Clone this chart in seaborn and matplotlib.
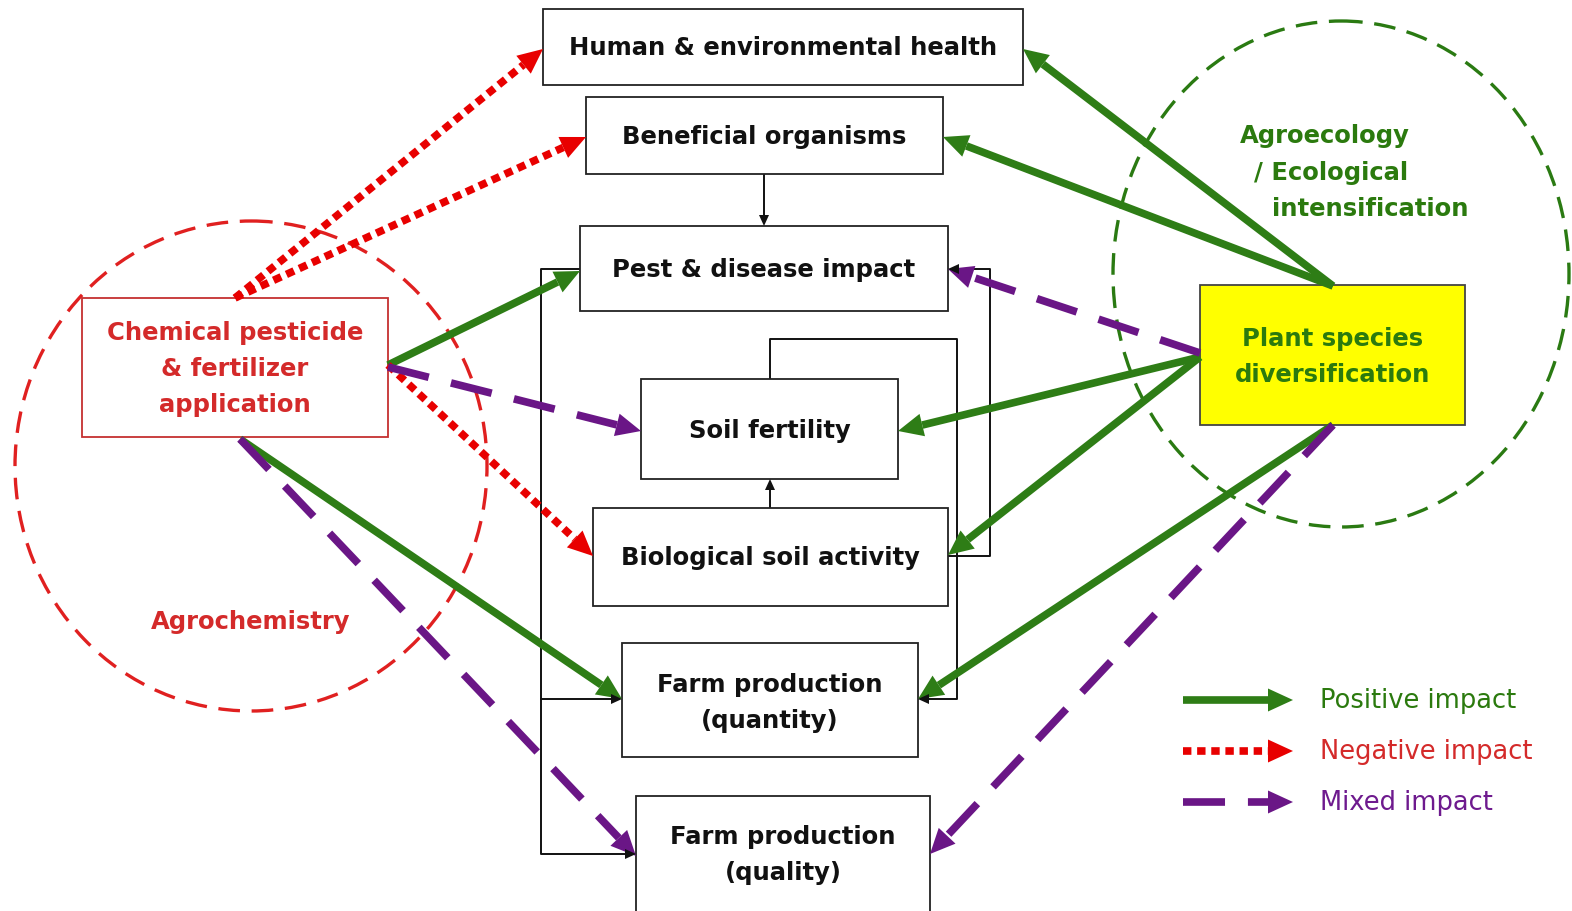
import numpy as np
import matplotlib
matplotlib.use("Agg")
import matplotlib.pyplot as plt
from matplotlib.patches import Rectangle, Ellipse, Polygon
import seaborn as sns

sns.set_theme(style="white")
plt.rcParams['font.family'] = ['DejaVu Sans']

W, H = 1572, 912

# ---- data: nodes (label, x0, y0, x1, y1, text colour, edge colour, face colour)
box_names = ["human", "benef", "pest", "soil", "bio", "fqty", "fqlt", "chem", "plant"]
box_labels = ["Human & environmental health", "Beneficial organisms", "Pest & disease impact",
              "Soil fertility", "Biological soil activity", "Farm production\n(quantity)",
              "Farm production\n(quality)", "Chemical pesticide\n& fertilizer\napplication",
              "Plant species\ndiversification"]
box_x0 = [543, 586, 580, 641, 593, 622, 636, 82, 1200]
box_y0 = [10, 98, 227, 380, 509, 644, 797, 299, 286]
box_x1 = [1023, 943, 948, 898, 948, 918, 930, 388, 1465]
box_y1 = [86, 175, 312, 480, 607, 758, 920, 438, 426]
box_text_y = [48, 137, 270, 431, 558, 703, 855, 369, 357]
box_text_col = ["#111111"] * 7 + ["#d42a2a", "#2b7a0e"]
box_edge_col = ["#222222"] * 7 + ["#c53030", "#444444"]
box_face_col = ["white"] * 7 + ["white", "#ffff00"]

# circles: centre x, centre y, width, height, colour
circle_cx = [251, 1341]
circle_cy = [467, 275]
circle_w = [472, 456]
circle_h = [490, 506]
circle_col = ["#e02020", "#2a7a12"]

# impact arrows: (x_start, y_start, x_end, y_end)
pos_arrows = [(388, 366, 580, 272), (240, 440, 622, 700), (1333, 287, 1023, 50),
              (1333, 287, 943, 138), (1200, 358, 898, 432), (1200, 358, 948, 556),
              (1333, 426, 918, 700)]
neg_arrows = [(235, 299, 543, 50), (235, 299, 586, 138), (388, 366, 593, 557)]
mix_arrows = [(388, 368, 641, 432), (240, 440, 636, 857), (1200, 354, 948, 270),
              (1333, 426, 930, 855)]

# black connector paths (polyline points, arrow at end)
connectors = [
    [(764, 175), (764, 227)],
    [(770, 509), (770, 480)],
    [(770, 380), (770, 340), (957, 340), (957, 700), (918, 700)],
    [(948, 557), (990, 557), (990, 270), (948, 270)],
    [(580, 270), (541, 270), (541, 700), (622, 700)],
    [(541, 700), (541, 855), (636, 855)],
]

legend_labels = ["Positive impact", "Negative impact", "Mixed impact"]
legend_y = [701, 752, 803]

GREEN = "#2e7d16"
RED = "#e80000"
PURPLE = "#6a1686"
TXT_GREEN = "#2b7a0e"
TXT_RED = "#d42a2a"
TXT_PURPLE = "#6e1a8e"

FS = 17.5

fig = plt.figure(figsize=(W / 100, H / 100), dpi=100)
ax = fig.add_axes([0, 0, 1, 1])
ax.set_xlim(0, W)
ax.set_ylim(H, 0)
ax.axis("off")


def head(x0, y0, x1, y1, color, length=25, width=23, z=5):
    d = np.array([x1 - x0, y1 - y0], float)
    d /= np.hypot(*d)
    n = np.array([-d[1], d[0]])
    tip = np.array([x1, y1], float)
    base = tip - d * length
    pts = [tip, base + n * width / 2, base - n * width / 2]
    ax.add_patch(Polygon(pts, closed=True, color=color, zorder=z, lw=0))
    return base


def arrow(x0, y0, x1, y1, color, ls, lw=5.5, length=25, width=23, z=5):
    base = head(x0, y0, x1, y1, color, length, width, z)
    ax.plot([x0, base[0]], [y0, base[1]], color=color, lw=lw, ls=ls,
            solid_capstyle="butt", dash_capstyle="butt", zorder=z)


# circles
for cx, cy, w, h, c in zip(circle_cx, circle_cy, circle_w, circle_h, circle_col):
    ax.add_patch(Ellipse((cx, cy), w, h, fill=False, ec=c, lw=2.4,
                         ls=(0, (6.5, 3.5)), zorder=1))

# boxes
for lab, x0, y0, x1, y1, ty, tc, ec, fc in zip(box_labels, box_x0, box_y0, box_x1, box_y1,
                                                box_text_y, box_text_col, box_edge_col,
                                                box_face_col):
    ax.add_patch(Rectangle((x0, y0), x1 - x0, y1 - y0, fc=fc, ec=ec, lw=1.3, zorder=3))
    ax.text((x0 + x1) / 2, ty, lab, ha="center", va="center", color=tc,
            fontsize=FS, fontweight="bold", linespacing=1.62, zorder=4)

# connectors
for path in connectors:
    xs = [p[0] for p in path]
    ys = [p[1] for p in path]
    (xa, ya), (xb, yb) = path[-2], path[-1]
    base = head(xa, ya, xb, yb, "#111111", length=11, width=10, z=6)
    ax.plot(xs[:-1] + [base[0]], ys[:-1] + [base[1]], color="#111111", lw=1.4, zorder=2)

# impact arrows
DOT = (0, (1.1, 0.75))
DASH = (0, (5.5, 3.0))
for a in pos_arrows:
    arrow(*a, GREEN, "-")
for a in neg_arrows:
    arrow(*a, RED, DOT)
for a in mix_arrows:
    arrow(*a, PURPLE, DASH)

# legend
arrow(1183, legend_y[0], 1293, legend_y[0], GREEN, "-")
arrow(1183, legend_y[1], 1293, legend_y[1], RED, DOT)
arrow(1183, legend_y[2], 1293, legend_y[2], PURPLE, DASH)
for lab, y, c in zip(legend_labels, legend_y, [TXT_GREEN, TXT_RED, TXT_PURPLE]):
    ax.text(1320, y, lab, ha="left", va="center", color=c, fontsize=18.5)

# circle labels
ax.text(251, 622, "Agrochemistry", ha="center", va="center", color=TXT_RED,
        fontsize=FS, fontweight="bold")
ax.text(1325, 136, "Agroecology", ha="center", va="center", color=TXT_GREEN,
        fontsize=FS, fontweight="bold")
ax.text(1331, 173, "/ Ecological", ha="center", va="center", color=TXT_GREEN,
        fontsize=FS, fontweight="bold")
ax.text(1370, 209, "intensification", ha="center", va="center", color=TXT_GREEN,
        fontsize=FS, fontweight="bold")

fig.savefig("out.png", dpi=100)
